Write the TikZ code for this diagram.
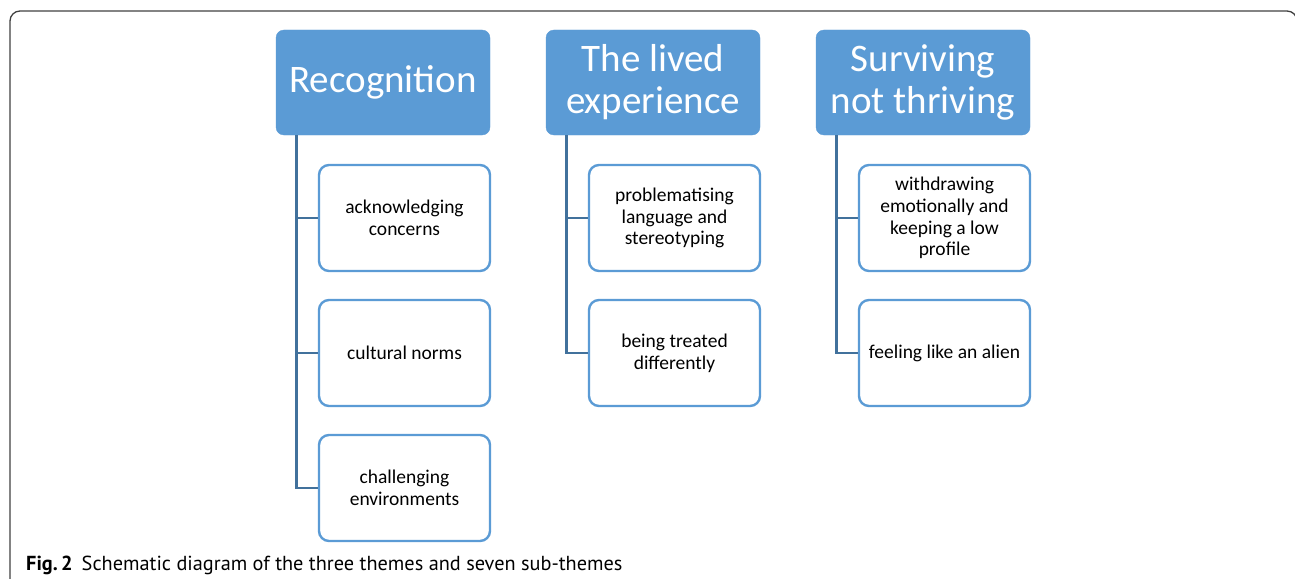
\documentclass[tikz,border=0pt]{standalone}
\usepackage{fontspec}
\setmainfont{Carlito}
\newfontfamily\capfont{PT Sans}
\definecolor{hblue}{HTML}{5B9BD5}
\definecolor{cblue}{HTML}{41719C}
\definecolor{frame}{HTML}{404040}
\begin{document}
\begin{tikzpicture}[x=1pt,y=-1pt,
  head/.style={draw=hblue, fill=hblue, rounded corners=8pt, minimum width=214pt, minimum height=105pt,
    text=white, align=center, inner sep=0pt, font=\fontsize{39}{42}\selectfont},
  sub/.style={draw=hblue, line width=2.4pt, fill=white, rounded corners=10pt, minimum width=171pt, minimum height=106pt,
    text=black, align=center, inner sep=0pt, font=\fontsize{19.5}{21.7}\selectfont},
  conn/.style={draw=cblue, line width=2.7pt}]
\useasboundingbox (0,0) rectangle (1295,578);
\draw[frame, line width=1.3pt] (10,590) -- (10,21) arc[start angle=180, end angle=270, radius=10] -- (1287,11)
  arc[start angle=270, end angle=360, radius=10] -- (1297,590);

\node[head] (h1) at (383,82.5) {Recognition};
\node[head] (h2) at (653,82.5) {The lived\\experience};
\node[head] (h3) at (923,82.5) {Surviving\\not thriving};

\coordinate (v1) at ([xshift=21pt]h1.south west);
\coordinate (v2) at ([xshift=21pt]h2.south west);
\coordinate (v3) at ([xshift=21pt]h3.south west);

\node[sub] (s11) at (404.5,218) {acknowledging\\concerns};
\node[sub] (s12) at (404.5,353) {cultural norms};
\node[sub] (s13) at (404.5,488) {challenging\\environments};
\node[sub] (s21) at (674.5,218) {problematising\\language and\\stereotyping};
\node[sub] (s22) at (674.5,353) {being treated\\differently};
\node[sub] (s31) at (944.5,218) {withdrawing\\emotionally and\\keeping a low\\profile};
\node[sub] (s32) at (944.5,353) {feeling like an alien};

\draw[conn] (v1) |- (s13.west);
\draw[conn] (v1) |- (s12.west);
\draw[conn] (v1) |- (s11.west);
\draw[conn] (v2) |- (s22.west);
\draw[conn] (v2) |- (s21.west);
\draw[conn] (v3) |- (s32.west);
\draw[conn] (v3) |- (s31.west);

\node[anchor=base west, inner sep=0pt, font=\capfont\fontsize{20.3}{22}\selectfont] (cap) at (26,570)
  {\textbf{Fig.\,2}\hspace{9pt}Schematic diagram of the three themes and seven sub-themes};
\end{tikzpicture}
\end{document}
